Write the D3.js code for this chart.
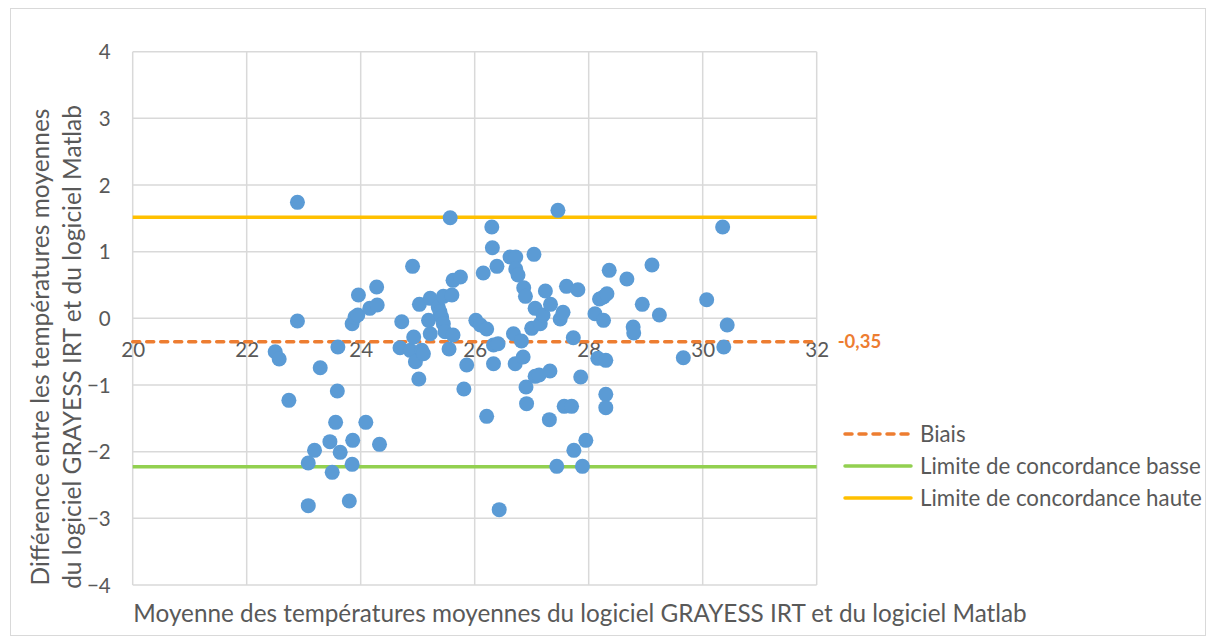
<!DOCTYPE html>
<html><head><meta charset="utf-8">
<script src="https://cdn.jsdelivr.net/npm/d3@7"></script>
<style>body{margin:0;background:#fff}svg{display:block}text{font-family:Lato,"Open Sans",sans-serif;fill:#595959}</style>
</head><body><svg id="c" width="1216" height="644"></svg>
<script>
// Bland-Altman data: mean (x) and difference (y)
const meanVals = [22.50,22.57,22.74,22.89,22.89,23.08,23.08,23.19,23.29,23.46,23.50,23.56,23.59,23.60,23.64,23.80,23.85,23.86,23.85,23.90,23.95,23.96,24.09,24.16,24.28,24.29,24.33,24.69,24.72,24.87,24.91,24.93,24.96,25.02,25.03,25.07,25.10,25.19,25.22,25.22,25.36,25.39,25.42,25.45,25.45,25.48,25.55,25.57,25.60,25.62,25.62,25.75,25.81,25.86,26.02,26.10,26.15,26.21,26.21,26.30,26.31,26.33,26.33,26.39,26.41,26.43,26.62,26.68,26.71,26.72,26.72,26.76,26.82,26.85,26.86,26.89,26.90,26.91,27.00,27.04,27.06,27.06,27.13,27.15,27.20,27.24,27.31,27.32,27.33,27.44,27.46,27.50,27.55,27.57,27.61,27.70,27.73,27.74,27.81,27.86,27.89,27.95,28.11,28.16,28.30,28.19,28.26,28.26,28.30,28.30,28.32,28.36,28.67,28.78,28.79,28.94,29.11,29.24,29.66,30.07,30.35,30.37,30.43];
const diffVals = [-0.50,-0.61,-1.23,1.74,-0.04,-2.17,-2.81,-1.98,-0.74,-1.85,-2.31,-1.56,-1.09,-0.43,-2.01,-2.74,-2.19,-1.83,-0.08,0.02,0.05,0.35,-1.56,0.15,0.47,0.20,-1.89,-0.44,-0.05,-0.48,0.78,-0.28,-0.65,-0.91,0.21,-0.48,-0.53,-0.03,0.30,-0.23,0.17,0.10,0.02,0.33,-0.08,-0.20,-0.46,1.51,0.35,0.57,-0.25,0.62,-1.06,-0.70,-0.03,-0.10,0.68,-0.16,-1.47,1.37,1.06,-0.40,-0.68,0.78,-0.38,-2.87,0.92,-0.23,-0.68,0.92,0.74,0.65,-0.34,-0.58,0.46,0.33,-1.03,-1.28,-0.15,0.96,0.15,-0.87,-0.85,-0.08,0.05,0.41,-1.52,-0.79,0.21,-2.22,1.62,-0.01,0.09,-1.32,0.48,-1.32,-0.29,-1.98,0.43,-0.88,-2.22,-1.83,0.07,-0.60,-0.63,0.29,-0.03,0.32,-1.14,-1.34,0.37,0.72,0.59,-0.13,-0.22,0.21,0.80,0.05,-0.59,0.28,1.37,-0.43,-0.10];
const xTicks = [20,22,24,26,28,30,32];
const yTicks = [-4,-3,-2,-1,0,1,2,3,4];
const biasValue = -0.35;
const lowerLimit = -2.225;
const upperLimit = 1.515;
const biasLabel = "-0,35";
const legendLabels = ["Biais","Limite de concordance basse","Limite de concordance haute"];
const xTitle = "Moyenne des températures moyennes du logiciel GRAYESS IRT et du logiciel Matlab";
const yTitleLines = ["Différence entre les températures moyennes","du logiciel GRAYESS IRT et du logiciel Matlab"];

const svg = d3.select("#c");
svg.append("rect").attr("x",10.5).attr("y",8.5).attr("width",1195).attr("height",627).attr("fill","#fff").attr("stroke","#d9d9d9");

const x = d3.scaleLinear().domain([20,32]).range([132.7,816.7]);
const y = d3.scaleLinear().domain([-4,4]).range([585,51.7]);

// gridlines
const g = svg.append("g");
g.selectAll(".hg").data(yTicks).join("line").attr("x1",x(20)).attr("x2",x(32))
  .attr("y1",d=>y(d)).attr("y2",d=>y(d)).attr("stroke","#d9d9d9").attr("stroke-width",1.5);
g.selectAll(".vg").data(xTicks).join("line").attr("y1",y(-4)).attr("y2",y(4))
  .attr("x1",d=>x(d)).attr("x2",d=>x(d)).attr("stroke","#d9d9d9").attr("stroke-width",1.5);

// y tick labels
const yAxis = d3.axisLeft(y).tickValues(yTicks).tickSize(0).tickPadding(0);
const ya = svg.append("g").attr("transform",`translate(${x(20)-22},0)`).call(yAxis);
ya.select(".domain").remove();
ya.selectAll("text").attr("font-size",20.5).attr("font-family","Lato").attr("fill","#595959").attr("dy","0.35em");

// x tick labels (axis crosses at y=0)
const xAxis = d3.axisBottom(x).tickValues(xTicks).tickSize(0).tickPadding(0);
const xa = svg.append("g").attr("transform",`translate(0,${y(0)+31})`).call(xAxis);
xa.select(".domain").remove();
xa.selectAll("text").attr("font-size",20.5).attr("font-family","Lato").attr("fill","#595959").attr("dy","0.35em");

// reference lines
const lines = [
  {v:upperLimit, c:"#FFC000", dash:null},
  {v:lowerLimit, c:"#92D050", dash:null},
  {v:biasValue, c:"#ED7D31", dash:"7,7"}
];
svg.selectAll(".ref").data(lines).join("line").attr("x1",x(20)).attr("x2",x(32))
  .attr("y1",d=>y(d.v)).attr("y2",d=>y(d.v)).attr("stroke",d=>d.c).attr("stroke-width",3.5)
  .attr("stroke-dasharray",d=>d.dash).attr("stroke-linecap",d=>d.dash?"round":"butt");

// points
const pts = meanVals.map((m,i)=>({m, d:diffVals[i]}));
svg.append("g").selectAll("circle").data(pts).join("circle")
  .attr("cx",d=>x(d.m)).attr("cy",d=>y(d.d)).attr("r",7.5).attr("fill","#5B9BD5");

// bias label
svg.append("text").attr("x",x(32)+21).attr("y",y(biasValue)).attr("dy","0.35em")
  .attr("font-size",18.5).attr("font-weight","bold").style("fill","#ED7D31").text(biasLabel);

// legend
const leg = svg.append("g");
const legItems = [
  {t:legendLabels[0], c:"#ED7D31", dash:"7,7", yy:434},
  {t:legendLabels[1], c:"#92D050", dash:null, yy:466},
  {t:legendLabels[2], c:"#FFC000", dash:null, yy:498}
];
legItems.forEach(it=>{
  leg.append("line").attr("x1",845).attr("x2",911).attr("y1",it.yy).attr("y2",it.yy)
    .attr("stroke",it.c).attr("stroke-width",3.5).attr("stroke-dasharray",it.dash)
    .attr("stroke-linecap","round");
  leg.append("text").attr("x",920).attr("y",it.yy).attr("dy","0.35em").attr("font-size",22.3).text(it.t);
});

// axis titles
svg.append("text").attr("x",580).attr("y",613).attr("dy","0.35em").attr("text-anchor","middle")
  .attr("font-size",24.3).text(xTitle);
const yt = svg.append("text").attr("transform","translate(0,347) rotate(-90)").attr("text-anchor","middle").attr("font-size",24.5);
yt.append("tspan").attr("x",0).attr("y",49).text(yTitleLines[0]);
yt.append("tspan").attr("x",0).attr("y",81).text(yTitleLines[1]);
</script></body></html>
